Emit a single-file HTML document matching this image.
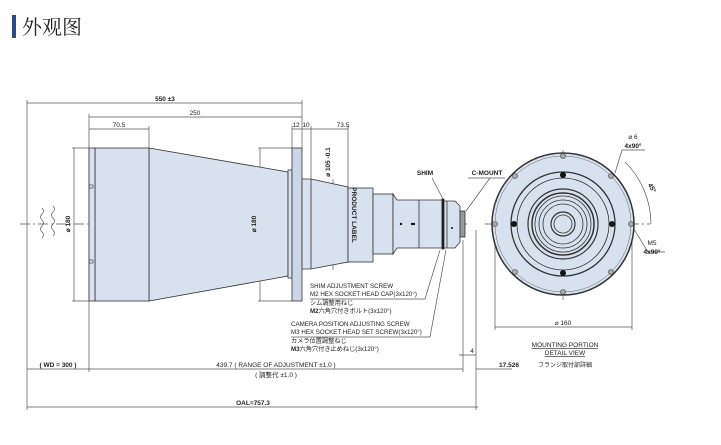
<!DOCTYPE html>
<html><head><meta charset="utf-8"><style>
html,body{margin:0;padding:0;background:#fff;width:721px;height:445px;overflow:hidden}
svg{display:block}
text{font-family:"Liberation Sans","Noto Sans CJK JP",sans-serif;fill:#222}
</style></head><body>
<svg width="721" height="445" viewBox="0 0 721 445" xmlns="http://www.w3.org/2000/svg">
<rect x="12" y="15" width="4" height="23" fill="#2a4a8a"/>
<text x="22" y="34" style="font-family:'Noto Serif CJK SC',serif;font-size:20px" fill="#333">外观图</text>

<g stroke="#555" stroke-width="0.7" fill="none">
<line x1="27" y1="103" x2="302" y2="103"/>
<line x1="89" y1="117" x2="302" y2="117"/>
<line x1="89" y1="129" x2="149" y2="129"/>
<line x1="292" y1="129" x2="348" y2="129"/>
<line x1="27" y1="100" x2="27" y2="410"/>
<line x1="89" y1="114" x2="89" y2="372"/>
<line x1="149" y1="126" x2="149" y2="148"/>
<line x1="302" y1="100" x2="302" y2="148"/>
<line x1="292" y1="126" x2="292" y2="148"/>
<line x1="311" y1="126" x2="311" y2="179"/>
<line x1="348" y1="126" x2="348" y2="188"/>
<line x1="72" y1="148" x2="89" y2="148"/><line x1="72" y1="301" x2="89" y2="301"/>
<line x1="74" y1="148" x2="74" y2="301"/>
<line x1="258" y1="148" x2="292" y2="148"/><line x1="258" y1="301" x2="292" y2="301"/>
<line x1="260" y1="148" x2="260" y2="301"/>
<line x1="333" y1="179" x2="333" y2="270"/>
<line x1="27" y1="369" x2="463" y2="369"/>
<line x1="476" y1="369" x2="512" y2="369"/>
<line x1="27" y1="407" x2="478" y2="407"/>
<line x1="463" y1="240" x2="463" y2="372"/>
<line x1="476" y1="230" x2="476" y2="410"/>
<line x1="459" y1="355" x2="476" y2="355"/>
<line x1="20" y1="224" x2="470" y2="224" stroke-dasharray="10,3,2,3"/>
<line x1="485" y1="224" x2="650" y2="224" stroke-dasharray="10,3,2,3"/>
<line x1="563" y1="150" x2="563" y2="300" stroke-dasharray="10,3,2,3"/>
<path d="M42 208 q3 3 0 6 q-3 3 0 6 q3 3 0 6 q-3 3 0 6 q3 3 0 6"/>
<path d="M53 206 q3 3 0 6 q-3 3 0 6 q3 3 0 6 q-3 3 0 6 q3 3 0 6"/>
<polyline points="310,299 425,299 440,250"/>
<polyline points="291,337 430,337 446,250"/>
<line x1="432" y1="178" x2="443" y2="199"/>
<line x1="490" y1="178" x2="466" y2="211"/>
<line x1="468" y1="178" x2="505" y2="178"/>
<line x1="495" y1="224" x2="495" y2="330"/>
<line x1="632" y1="224" x2="632" y2="330"/>
<line x1="495" y1="327" x2="632" y2="327"/>
<path d="M625 162 A88 88 0 0 1 651 224"/>
<polyline points="615,173 622,150 645,150"/>
<polyline points="632,226 648,252 665,252"/>
</g>

<g stroke="#333" stroke-width="0.8" fill="#d8e1ee">
<polygon points="149,148 288,172 288,276 149,301"/>
<rect x="95" y="148" width="54" height="153"/>
<rect x="89" y="148" width="6" height="153"/>
<rect x="288" y="170" width="4" height="108"/>
<rect x="292" y="148" width="10" height="153" fill="#cbd6e6"/>
<polygon points="302,179 311,179 348,187 348,262 311,269 302,269"/>
<line x1="311" y1="179" x2="311" y2="269"/>
<rect x="348" y="188" width="25" height="74"/>
<rect x="373" y="194" width="20" height="60"/>
<polygon points="393,194 397,200 442,200 442,248 397,248 393,254"/>
<line x1="419" y1="200" x2="419" y2="248"/>
<rect x="442" y="199" width="2" height="50" fill="#111"/>
<polygon points="444,201 455,201 460,206 460,242 455,248 444,248"/>
<line x1="447" y1="201" x2="447" y2="248"/>
<rect x="460" y="211" width="5" height="26" fill="#999"/>
</g>
<g fill="#111">
<circle cx="401" cy="224" r="1.2"/><circle cx="412" cy="224" r="1.2"/><circle cx="414" cy="224" r="1.2"/><circle cx="452" cy="228" r="1"/>
</g>
<rect x="89" y="185" width="4" height="3" fill="none" stroke="#333" stroke-width="0.6"/>
<rect x="89" y="260" width="4" height="3" fill="none" stroke="#333" stroke-width="0.6"/>

<g stroke="#333" fill="none" stroke-width="0.8">
<circle cx="563" cy="224" r="71" fill="#d8e1ee" stroke-width="1.5"/>
<circle cx="563" cy="224" r="68" stroke="#666" stroke-width="0.5"/>
<circle cx="563" cy="224" r="52" stroke-width="1.3"/>
<circle cx="563" cy="224" r="46"/>
<circle cx="563" cy="224" r="35" stroke-width="1.2"/>
<circle cx="563" cy="224" r="31" stroke-width="1.5"/>
<circle cx="563" cy="224" r="28"/>
<circle cx="563" cy="224" r="24"/>
<circle cx="563" cy="224" r="20"/>
<circle cx="563" cy="224" r="12" stroke-width="1.2"/>
<circle cx="563" cy="224" r="9"/>
</g>
<g fill="#aaa" stroke="#444" stroke-width="0.6">
<circle cx="563" cy="156" r="2.5"/><circle cx="563" cy="292" r="2.5"/><circle cx="495" cy="224" r="2.5"/><circle cx="631" cy="224" r="2.5"/>
<circle cx="515" cy="176" r="2.5"/><circle cx="611" cy="176" r="2.5"/><circle cx="515" cy="272" r="2.5"/><circle cx="611" cy="272" r="2.5"/>
</g>
<g fill="#111">
<circle cx="563" cy="175" r="3"/><circle cx="563" cy="273" r="3"/><circle cx="514" cy="224" r="3"/><circle cx="612" cy="224" r="3"/>
</g>

<g font-size="6.5px" text-anchor="middle">
<text x="165" y="101" font-weight="bold">550 ±3</text>
<text x="195" y="115">250</text>
<text x="119" y="127">70.5</text>
<text x="296" y="127">12</text><text x="306" y="127">10</text>
<text x="343" y="127">73.5</text>
<text transform="translate(70,224) rotate(-90)" font-weight="bold">⌀ 180</text>
<text transform="translate(256,224) rotate(-90)" font-weight="bold">⌀ 180</text>
<text transform="translate(330,162) rotate(-90)" font-weight="bold">⌀ 105 -0.1</text>
<text transform="translate(352,215) rotate(90)" font-weight="bold">PRODUCT LABEL</text>
<text x="425" y="175" font-weight="bold">SHIM</text>
<text x="487" y="175" font-weight="bold">C-MOUNT</text>
<text x="633" y="139">⌀ 6</text>
<text x="633" y="148" font-weight="bold">4x90°</text>
<text x="652" y="190" transform="rotate(60 652 188)" font-weight="bold">45°</text>
<text x="652" y="245">M5</text>
<text x="652" y="254" font-weight="bold">4x90°</text>
<text x="563" y="325">⌀ 160</text>
<text x="565" y="347" text-decoration="underline">MOUNTING PORTION</text>
<text x="565" y="355" text-decoration="underline">DETAIL VIEW</text>
<text x="565" y="367" font-size="6px">フランジ取付部詳細</text>
<text x="58" y="367" font-weight="bold">( WD = 300 )</text>
<text x="276" y="367">439.7 ( RANGE OF ADJUSTMENT ±1.0 )</text>
<text x="276" y="377">( 調整代 ±1.0 )</text>
<text x="509" y="367" font-weight="bold">17.526</text>
<text x="472" y="353">4</text>
<text x="253" y="405" font-weight="bold">OAL=757.3</text>
</g>
<g font-size="6.2px">
<text x="310" y="288">SHIM ADJUSTMENT SCREW</text>
<text x="310" y="296">M2 HEX SOCKET HEAD CAP(3x120°)</text>
<text x="310" y="305">シム調整用ねじ</text>
<text x="310" y="313"><tspan font-weight="bold">M2</tspan>六角穴付きボルト(3x120°)</text>
<text x="291" y="326">CAMERA POSITION ADJUSTING SCREW</text>
<text x="291" y="334">M3 HEX SOCKET HEAD SET SCREW(3x120°)</text>
<text x="291" y="343">カメラ位置調整ねじ</text>
<text x="291" y="351"><tspan font-weight="bold">M3</tspan>六角穴付き止めねじ(3x120°)</text>
</g>
</svg>
</body></html>
